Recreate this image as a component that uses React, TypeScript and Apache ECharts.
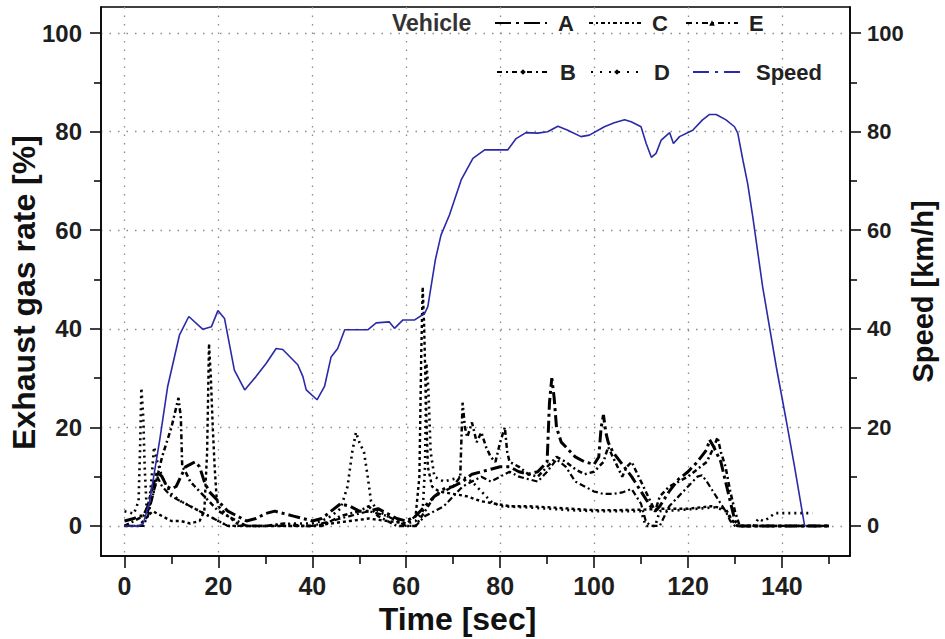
import { useEffect, useRef } from "react";
import * as echarts from "echarts";

const X_TICKS = [0, 20, 40, 60, 80, 100, 120, 140];
const X_MINOR = [10, 30, 50, 70, 90, 110, 130, 150];
const Y_TICKS = [0, 20, 40, 60, 80, 100];
const Y_MINOR = [10, 30, 50, 70, 90];

// [time s, exhaust gas rate %]
const vehicleA = [
  [0, 1], [2, 1.5], [3, 2], [4, 2], [5, 4], [6, 8], [7, 11], [8, 10], [9, 8], [10, 7.5], [11, 8], [12, 10],
  [13, 12], [14, 12.5], [15, 13], [16, 12], [17, 9], [18, 7], [19, 6], [20, 5], [21, 4], [22, 3], [24, 2],
  [26, 1], [28, 1.5], [30, 2.5], [32, 3], [34, 2.5], [36, 2], [38, 1.5], [40, 1], [42, 1.5], [44, 3],
  [46, 4.5], [48, 4], [50, 3], [52, 3], [54, 3.5], [56, 2.5], [58, 1.5], [60, 1], [62, 2], [64, 4], [66, 6],
  [68, 7.5], [70, 8], [72, 9], [74, 10.5], [76, 11], [78, 11.5], [80, 12], [82, 12], [84, 11], [86, 10.5],
  [88, 11], [90, 13], [90.5, 25], [91, 30], [91.5, 26], [92, 20], [93, 17], [94, 16], [95, 15], [96, 14],
  [98, 13], [100, 12.5], [101, 14], [101.5, 20], [102, 22.5], [102.5, 19], [103, 17], [104, 15], [106, 12.5],
  [108, 10], [110, 7], [112, 4], [113, 3], [114, 4], [116, 7], [118, 9.5], [120, 11], [122, 13], [124, 15.5],
  [124.6, 17.5], [125.5, 16], [127, 13], [128, 9], [129, 5], [130, 1], [131, 0], [140, 0], [150.5, 0],
];
const vehicleB = [
  [0, 0], [2, 1], [4, 2], [5, 3], [6, 6], [7, 10], [8, 14], [9, 17], [10, 20], [11, 24], [11.5, 26], [12, 22],
  [12.3, 12], [13, 11], [14, 9], [15, 8], [16, 7], [18, 5], [20, 3], [22, 2], [24, 1], [26, 0], [30, 0],
  [34, 0.5], [38, 0], [42, 0], [44, 1], [46, 2], [48, 2.5], [50, 3], [52, 4], [54, 2], [56, 1], [58, 0],
  [62, 0], [64, 3], [66, 6], [68, 7], [70, 8], [71.5, 10], [72, 25], [72.5, 20], [73, 18], [74, 21], [75, 17],
  [76, 19], [77, 16], [78, 14], [79, 13], [80, 17], [81, 20], [81.5, 15], [82, 13], [84, 12], [86, 10.5],
  [88, 10], [90, 12], [92, 14], [94, 13], [96, 11.5], [98, 10.5], [100, 11], [102, 13], [103, 16], [104, 14],
  [105, 12], [106, 10], [107, 12], [108, 13], [109, 11], [110, 9], [112, 5], [113, 3], [114, 6], [116, 8],
  [118, 9], [120, 10], [122, 11.5], [124, 13], [125.5, 16], [126.3, 18], [127, 15], [128, 12], [129, 7],
  [130, 3], [131, 0], [150, 0],
];
const vehicleC = [
  [0, 0], [3, 0], [4, 1], [6, 3], [8, 2], [10, 1], [12, 1], [14, 0.5], [16, 1], [17, 3], [17.6, 15], [18, 37],
  [18.4, 30], [18.8, 20], [19.2, 12], [19.6, 6], [20, 4], [22, 2], [24, 0.5], [26, 0], [40, 0], [44, 0.5],
  [48, 1], [52, 1.5], [56, 1], [60, 0.5], [62, 2], [62.8, 10], [63.2, 35], [63.5, 48.5], [63.8, 41],
  [64.2, 25], [64.6, 12], [65.5, 8], [67, 7], [70, 6.5], [73, 6], [76, 5], [79, 4.5], [82, 4], [86, 4],
  [90, 3.8], [95, 3.5], [100, 3.2], [105, 3.2], [110, 3.3], [115, 3.5], [120, 3.5], [125, 4], [128, 3.5],
  [129.5, 1], [130.5, 0], [140, 0], [150, 0],
];
const vehicleD = [
  [0, 3], [2, 2.5], [3, 5], [3.3, 15], [3.6, 28], [4, 22], [4.3, 12], [4.7, 4], [5.2, 4], [5.8, 10],
  [6.3, 16], [7, 13], [8, 10], [9, 8], [10, 6.5], [12, 5], [14, 4], [16, 3], [18, 2], [20, 1], [22, 0],
  [30, 0], [36, 0.5], [40, 0.5], [42, 1], [44, 2], [46, 3.5], [47.5, 8], [48.5, 15], [49.3, 19], [50, 17],
  [51, 15], [51.8, 10], [52.5, 5], [54, 3], [56, 2], [58, 1], [60, 0.5], [62, 1], [63.5, 3], [64, 12],
  [64.3, 33], [64.7, 28], [65.2, 15], [66, 10], [68, 9], [70, 9.5], [72, 10], [74, 9], [76, 7], [78, 5],
  [80, 4], [85, 3.8], [90, 3.5], [95, 3.2], [100, 3], [105, 3], [110, 3], [111, 0], [113, 0], [114, 3],
  [118, 3.2], [122, 3.5], [126, 3.8], [128, 3], [129.5, 1], [130.5, 0], [134, 0], [135, 1.5], [136, 1],
  [137, 1.5], [138.5, 2.6], [146.5, 2.6],
];
const vehicleE = [
  [0, 0], [4, 0], [5, 2], [6, 6], [7, 10], [8, 8], [10, 6], [12, 5], [14, 4], [16, 3], [18, 2], [20, 1],
  [22, 0], [40, 0], [44, 1], [48, 2], [52, 3], [56, 2], [60, 0], [62, 0], [64, 2], [66, 3], [68, 4], [70, 6],
  [72, 8], [74, 9], [76, 10], [78, 9], [80, 10], [82, 11], [84, 10], [86, 9.5], [88, 9], [90, 11], [92, 13.5],
  [94, 12], [96, 9], [98, 8], [100, 7], [102, 6.5], [104, 6.5], [106, 6.8], [108, 7.5], [110, 4.5], [111, 1],
  [112, 0], [114, 0], [115, 2], [116, 4], [118, 6], [120, 8], [122, 10], [123, 10.3], [124, 9], [126, 6],
  [128, 3], [129, 1], [130, 0], [150, 0],
];
// [time s, speed km/h]
const speed = [
  [0, 0], [3, 0], [4, 0.5], [5.3, 4.7], [7.5, 17.4], [9.2, 28.3], [11.7, 38.7], [13.7, 42.5], [16.7, 39.9],
  [18.5, 40.4], [19.9, 43.7], [21.3, 42.1], [23.4, 31.6], [25.6, 27.6], [28, 30.3], [30.2, 33], [32.3, 36],
  [33.7, 35.8], [36.9, 32.7], [38, 30.3], [38.7, 27.6], [41, 25.6], [42.6, 28.3], [44, 34.3], [45.4, 36],
  [46.9, 39.8], [51.8, 39.8], [53.6, 41.2], [56.4, 41.4], [57.5, 40.1], [59.3, 41.8], [61.8, 41.8],
  [63.9, 43.1], [64.6, 44.5], [66.2, 54], [67.4, 59], [69.2, 63.1], [71.7, 70.2], [74.2, 74.6], [76.7, 76.3],
  [81.6, 76.3], [83.4, 78.6], [85.5, 79.8], [88, 79.7], [90.1, 80], [92.3, 81.1], [94.4, 80.3], [97.2, 79],
  [99, 79.3], [102.2, 81], [104.3, 81.8], [106.5, 82.4], [107.9, 82], [110, 81], [111.1, 77.6], [112.2, 74.8],
  [113.2, 75.6], [114.3, 78.3], [116.1, 79.8], [116.9, 77.6], [118.2, 79], [121, 80.3], [123.1, 82.4],
  [124.6, 83.5], [126, 83.5], [128.1, 82.4], [129.9, 81], [130.6, 79.7], [131.7, 74.2], [132.7, 69.5],
  [133.8, 62.7], [135.9, 48.5], [138.8, 32.3], [140.9, 21.5], [142.7, 12], [144.8, 0.2], [145, 0],
];

const FONT = "'Liberation Sans', Arial, sans-serif";
const X_MIN = -5;
const X_MAX = 154.5;
const Y_MIN = -6.1;
const Y_MAX = 105.3;
const SPEED_COLOR = "#2a2aa8";

export default function App() {
  const ref = useRef<HTMLDivElement>(null);
  useEffect(() => {
    const chart = echarts.init(ref.current!, null, { renderer: "svg" });
    const tickLabel = { fontSize: 24, fontWeight: "bold", color: "#1e1e1e", fontFamily: FONT };
    const titleStyle = { fontSize: 32, fontWeight: "bold", color: "#111", fontFamily: FONT };
    const gridLine = { show: true, lineStyle: { color: "#8c8c8c", width: 1.3, type: [1.5, 7] } };
    const tick = (len: number, values: number[]) => ({
      show: true, length: len, customValues: values, lineStyle: { color: "#000", width: 1.5 },
    });
    const axisLine = { show: true, onZero: false, lineStyle: { color: "#000", width: 1.5 } };
    const noLine = { show: false, onZero: false };

    const line = (name: string, data: number[][], type: any, width: number, symbol: string) => ({
      name, type: "line", data, xAxisIndex: 0, yAxisIndex: 0, showSymbol: false, symbol, symbolSize: 7,
      silent: true, lineStyle: { color: "#000", width, type }, itemStyle: { color: "#000" },
    });

    const legendItem = (name: string, left: number, top: number, lt: any, marker: boolean, color = "#000") => ({
      show: true, left, top, padding: 0, itemWidth: 52, itemHeight: 7, selectedMode: false,
      data: [{ name, lineStyle: { type: lt, width: 2, color }, itemStyle: marker ? { color } : { opacity: 0 } }],
      textStyle: { fontSize: 22, fontWeight: "bold", color: "#222", fontFamily: FONT, padding: [0, 0, 0, 6], lineHeight: 24 },
    });

    chart.setOption({
      animation: false,
      grid: {
        left: 101, right: 95, top: 7, bottom: 83, show: true, borderColor: "#000", borderWidth: 1.5,
        containLabel: false, outerBoundsMode: "none",
      },
      xAxis: [
        {
          type: "value", min: X_MIN, max: X_MAX, position: "bottom",
          axisLine, axisTick: tick(12, X_TICKS),
          axisLabel: { ...tickLabel, fontSize: 25, customValues: X_TICKS, margin: 17 },
          splitLine: gridLine,
          name: "Time [sec]", nameLocation: "middle", nameGap: 47, nameMoveOverlap: false,
          nameTextStyle: { ...titleStyle, padding: [0, 36, 0, 0] },
        },
        {
          type: "value", min: X_MIN, max: X_MAX, position: "bottom",
          axisLine: noLine, axisTick: tick(8, X_MINOR),
          axisLabel: { show: false }, splitLine: { show: false },
        },
      ],
      yAxis: [
        {
          type: "value", min: Y_MIN, max: Y_MAX, position: "left",
          axisLine, axisTick: tick(11, Y_TICKS),
          axisLabel: { ...tickLabel, customValues: Y_TICKS, margin: 19 },
          splitLine: gridLine,
          name: "Exhaust gas rate [%]", nameLocation: "middle", nameGap: 61, nameRotate: 90, nameMoveOverlap: false,
          nameTextStyle: { ...titleStyle, fontSize: 32, padding: [0, 22, 0, 0] },
        },
        {
          type: "value", min: Y_MIN, max: Y_MAX, position: "right",
          axisLine, axisTick: tick(11, Y_TICKS),
          axisLabel: { ...tickLabel, fontSize: 22, customValues: Y_TICKS, margin: 17 },
          splitLine: { show: false },
          name: "Speed [km/h]", nameLocation: "middle", nameGap: 58, nameRotate: 90, nameMoveOverlap: false,
          nameTextStyle: { ...titleStyle, fontSize: 29, padding: [0, 20, 0, 0] },
        },
        {
          type: "value", min: Y_MIN, max: Y_MAX, position: "left",
          axisLine: noLine, axisTick: tick(7, Y_MINOR),
          axisLabel: { show: false }, splitLine: { show: false },
        },
        {
          type: "value", min: Y_MIN, max: Y_MAX, position: "right",
          axisLine: noLine, axisTick: tick(7, Y_MINOR),
          axisLabel: { show: false }, splitLine: { show: false },
        },
      ],
      legend: [
        legendItem("A", 494, 11, [16, 5, 3, 5], false),
        legendItem("C", 588, 11, [4, 3, 2, 3], false),
        legendItem("E", 685, 11, [6, 4, 2, 4], true),
        legendItem("B", 496, 60, [5, 4, 2, 4], true),
        legendItem("D", 590, 60, [2, 7], true),
        legendItem("Speed", 692, 60, [16, 6, 3, 6], false, SPEED_COLOR),
      ],
      graphic: [
        {
          type: "text", left: 392, top: 11,
          style: { text: "Vehicle", fill: "#333", font: `bold 23px ${FONT}` },
        },
      ],
      series: [
        line("A", vehicleA, [12, 4, 3, 4], 3, "none"),
        line("B", vehicleB, [5, 3, 2, 3], 2.5, "diamond"),
        line("C", vehicleC, [3, 3], 2.4, "none"),
        line("D", vehicleD, [2, 4], 2.6, "diamond"),
        line("E", vehicleE, [6, 3, 2, 3], 2.2, "triangle"),
        {
          name: "Speed", type: "line", data: speed, xAxisIndex: 0, yAxisIndex: 1, showSymbol: false,
          symbol: "none", silent: true, lineStyle: { color: SPEED_COLOR, width: 1.6 }, itemStyle: { color: SPEED_COLOR },
        },
      ],
    });
    return () => chart.dispose();
  }, []);
  return <div ref={ref} style={{ position: "absolute", left: 0, top: 0, width: 945, height: 639 }} />;
}
